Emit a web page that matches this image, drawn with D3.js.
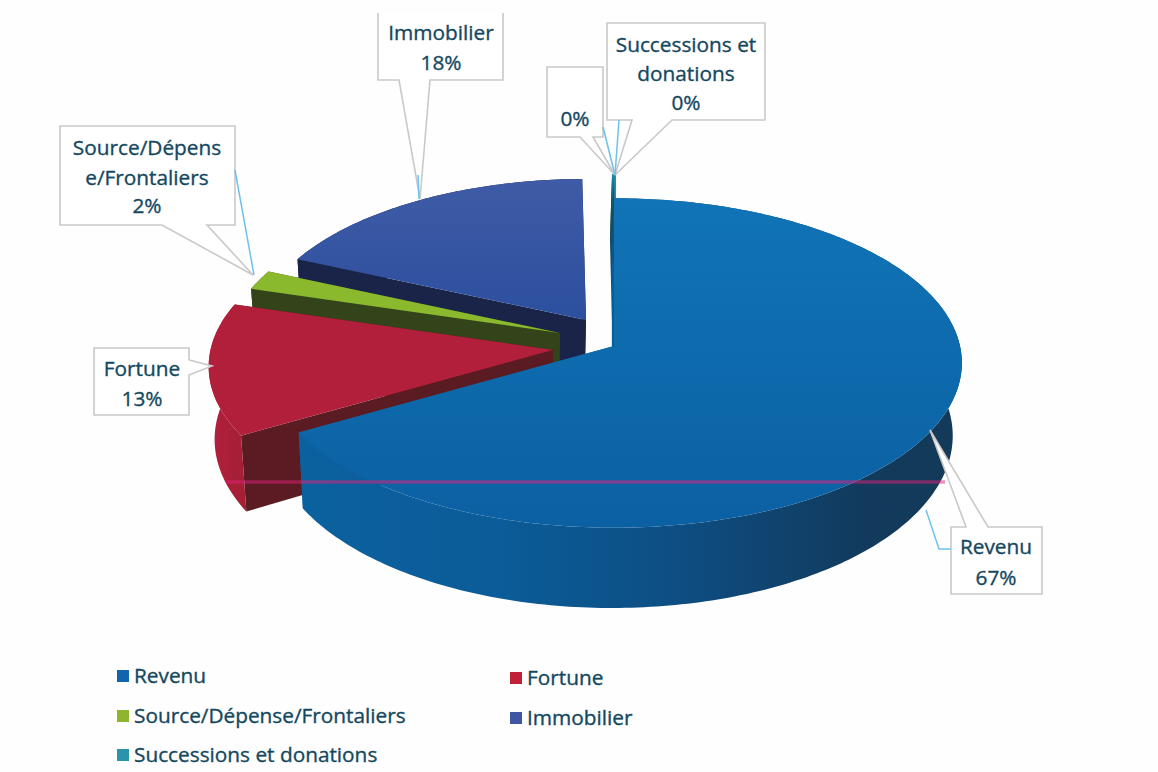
<!DOCTYPE html>
<html>
<head>
<meta charset="utf-8">
<script src="https://cdn.jsdelivr.net/npm/d3@7"></script>
<style>
    html, body { margin: 0; padding: 0; background: #fefefe; }
    svg { display: block; }
    text { font-family: "Open Sans", sans-serif; fill: #14485f; stroke: #14485f; stroke-width: 0.35; }
</style>
</head>
<body>
<svg id="chart" width="1158" height="772"></svg>
<script>
// values, in pie order (clockwise from 12 o'clock)
const categories = ["Revenu", "Fortune", "Source/Dépense/Frontaliers", "Immobilier", "", "Successions et donations"];
const shares = [66.6, 13.1, 2.0, 18.1, 0.1, 0.1];
const labelLines = [["Revenu"], ["Fortune"], ["Source/Dépens", "e/Frontaliers"], ["Immobilier"], [], ["Successions et", "donations"]];
const legendNames = ["Revenu", "Fortune", "Source/Dépense/Frontaliers", "Immobilier", "Successions et donations"];

const topColors = ["#0d69ad", "#b11f3b", "#8ab92d", "#34539f", "#1f8fb0", "#1f8fb0"];
const cutColors = ["#0b5c9a", "#5a1c22", "#33441a", "#1a2448", "#14505f", "#14505f"];
const legendColors = ["#1265ad", "#bf2238", "#8fb52f", "#3f56a3", "#2c93ad"];

// exploded slices: where each apex sits, and how big the slice is drawn
const apexX = [614, 553, 560, 586, 616, 616];
const apexY = [346, 350, 333, 320, 322, 322];
const sliceScale = [1, 0.99, 0.96, 0.95, 1, 1];

const radiusX = 346, radiusY = 163, tilt = 0.103, depth = 72;
// the underside of the pie is a little narrower than the top
const floorShrink = 0.98, floorCentre = 506;

const svg = d3.select("#chart");
const defs = svg.append("defs");

function gradient(id, stops, x1, x2) {
    const g = defs.append("linearGradient").attr("id", id)
        .attr("gradientUnits", "userSpaceOnUse")
        .attr("x1", x1).attr("x2", x2).attr("y1", 0).attr("y2", 0);
    stops.forEach(([o, c]) => g.append("stop").attr("offset", o).attr("stop-color", c));
}
gradient("wall0", [[0, "#0b619f"], [0.3, "#0b5c98"], [0.55, "#0d4f85"], [0.85, "#123a5c"], [1, "#143a58"]], 300, 965);
gradient("wall1", [[0, "#b5203c"], [1, "#a31f35"]], 205, 245);

function vertical(id, top, bottom, y1, y2) {
    const g = defs.append("linearGradient").attr("id", id)
        .attr("gradientUnits", "userSpaceOnUse")
        .attr("x1", 0).attr("x2", 0).attr("y1", y1).attr("y2", y2);
    g.append("stop").attr("offset", 0).attr("stop-color", top);
    g.append("stop").attr("offset", 1).attr("stop-color", bottom);
}
vertical("top0", "#1074b6", "#0b60a2", 198, 530);
vertical("top3", "#3f5ba5", "#2c4f9f", 180, 320);

// perspective: the near rim is drawn bigger than the far rim
function project(i, angle, r, drop) {
    const u = Math.cos(angle) * r * sliceScale[i];
    const s = Math.sin(angle) * r * sliceScale[i];
    const f = 1 / (1 + tilt * u);
    let x = apexX[i] + radiusX * s * f;
    if (drop) x = floorCentre + (x - floorCentre) * floorShrink;
    return [x, apexY[i] - radiusY * u * f + drop * f];
}

const line = d3.line();
const pie = d3.pie().sort(null).value(d => d);
const arcs = pie(shares);

function rim(i, a0, a1, drop) {
    const n = Math.max(2, Math.ceil((a1 - a0) * 60));
    return d3.range(n + 1).map(k => project(i, a0 + (a1 - a0) * k / n, 1, drop));
}

// painter's order: far slices first, Revenu last
const order = [3, 4, 5, 2, 1, 0];
const pieG = svg.append("g");

order.forEach(i => {
    const a = arcs[i];
    const g = pieG.append("g");
    const cut = angle => line([
        project(i, angle, 0, 0), project(i, angle, 1, 0),
        project(i, angle, 1, depth), project(i, angle, 0, depth)
    ]) + "Z";
    g.append("path").attr("d", cut(a.endAngle)).attr("fill", cutColors[i]);
    g.append("path").attr("d", cut(a.startAngle)).attr("fill", cutColors[i]);

    const wallFill = i === 0 ? "url(#wall0)" : i === 1 ? "url(#wall1)" : cutColors[i];
    g.append("path")
        .attr("d", line(rim(i, a.startAngle, a.endAngle, 0).concat(rim(i, a.startAngle, a.endAngle, depth).reverse())) + "Z")
        .attr("fill", wallFill);

    const topFill = i === 0 ? "url(#top0)" : i === 3 ? "url(#top3)" : topColors[i];
    g.append("path")
        .attr("d", line([project(i, 0, 0, 0)].concat(rim(i, a.startAngle, a.endAngle, 0))) + "Z")
        .attr("fill", topFill);
});

// scan line that runs across the pie in the original
svg.append("line")
    .attr("x1", 226).attr("x2", 945).attr("y1", 482).attr("y2", 482)
    .attr("stroke", "#e0207a").attr("stroke-opacity", 0.5).attr("stroke-width", 3.5);

// callouts: box, pointer and the blue leader line behind them
const callouts = [
    { i: 0, box: [951, 527, 1042, 594], base: [[966, 527], [988, 527]], tip: [930, 430],
      leader: [[951, 549], [939, 549], [926, 510]], cx: 996, lineY: [546, 577] },
    { i: 1, box: [94, 348, 189, 415], base: [[189, 375], [189, 360]], tip: [212, 366],
      leader: [], cx: 142, lineY: [368, 398] },
    { i: 2, box: [60, 126, 235, 225], base: [[207, 225], [162, 225]], tip: [253, 275],
      leader: [[235, 170], [254, 275]], cx: 147, lineY: [147, 177, 205] },
    { i: 3, box: [378, 4, 503, 80], base: [[430, 80], [399, 80]], tip: [420, 199],
      leader: [[418, 175], [419, 199]], cx: 441, lineY: [32, 62] },
    { i: 4, box: [547, 67, 603, 137], base: [[593, 137], [580, 137]], tip: [615, 175],
      leader: [[603, 127], [615, 175]], cx: 575, lineY: [118] },
    { i: 5, box: [607, 23, 765, 120], base: [[672, 120], [632, 120]], tip: [615, 175],
      leader: [[619, 120], [615, 175]], cx: 686, lineY: [44, 73, 102] }
];

const fontSize = 20.8;
const calloutG = svg.append("g");
callouts.forEach(c => {
    const [x0, y0, x1, y1] = c.box;
    let outline;
    if (c.base[0][0] === x1) {
        outline = [[x0, y0], [x1, y0], c.base[1], c.tip, c.base[0], [x1, y1], [x0, y1]];
    } else if (c.base[0][1] === y0) {
        outline = [[x0, y0], c.base[0], c.tip, c.base[1], [x1, y0], [x1, y1], [x0, y1]];
    } else {
        outline = [[x0, y0], [x1, y0], [x1, y1], c.base[0], c.tip, c.base[1], [x0, y1]];
    }
    const g = calloutG.append("g");
    g.append("path").attr("d", line(outline) + "Z")
        .attr("fill", "#fff").attr("stroke", "#c9c9c9").attr("stroke-width", 1.6);
    if (c.leader.length) {
        g.append("path").attr("d", line(c.leader))
            .attr("fill", "none").attr("stroke", "#6cc2ee").attr("stroke-width", 1.5);
    }
    const lines = labelLines[c.i].concat([d3.format(".0f")(shares[c.i]) + "%"]);
    lines.forEach((t, k) => {
        g.append("text").attr("x", c.cx).attr("y", c.lineY[k] + 2)
            .attr("text-anchor", "middle").attr("dominant-baseline", "middle")
            .attr("font-size", fontSize).text(t);
    });
});

// the scan cuts the Immobilier box off at the top
svg.append("rect").attr("width", 1158).attr("height", 13).attr("fill", "#fefefe");

// legend
const legendX = [117, 510, 117, 510, 117];
const legendY = [676, 678, 716, 718, 755];
const legendColor = d3.scaleOrdinal(legendNames, legendColors);
const legend = svg.append("g");
legendNames.forEach((name, i) => {
    legend.append("rect")
        .attr("x", legendX[i]).attr("y", legendY[i] - 6).attr("width", 12).attr("height", 12)
        .attr("fill", legendColor(name));
    legend.append("text")
        .attr("x", legendX[i] + 17).attr("y", legendY[i] + 1)
        .attr("dominant-baseline", "middle").attr("font-size", fontSize).text(name);
});
</script>
</body>
</html>
